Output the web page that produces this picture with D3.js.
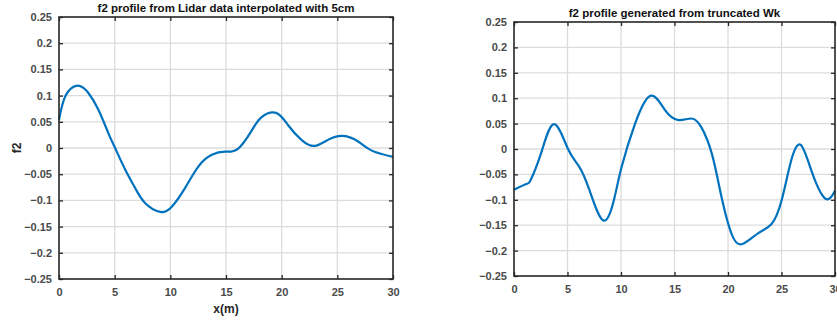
<!DOCTYPE html>
<html>
<head>
<meta charset="utf-8">
<script src="https://cdn.jsdelivr.net/npm/d3@7"></script>
<style>
  body { margin: 0; background: #fff; }
  svg text { font-family: Arial, "Liberation Sans", sans-serif; }
</style>
</head>
<body>
<div id="chart"></div>
<script>
// left profile (lidar, interpolated 5cm)
var lidarX = [0, 0.6, 1.68, 2.64, 3.54, 4.44, 5.04, 5.94, 6.83, 7.73, 9.08, 10.13, 11.33, 12.53, 13.73, 14.93, 16.1, 17.33, 18.2, 19.5, 20.6, 21.8, 22.96, 24.2, 25.5, 26.9, 28.1, 30];
var lidarF2 = [0.054, 0.1, 0.119, 0.105, 0.073, 0.028, 0, -0.041, -0.076, -0.105, -0.122, -0.112, -0.076, -0.035, -0.013, -0.007, -0.001, 0.034, 0.059, 0.067, 0.043, 0.015, 0.004, 0.016, 0.023, 0.012, -0.005, -0.017];

// right profile (generated from truncated Wk)
var wkX = [0, 1.15, 1.6, 2.55, 3.74, 5.05, 6.1, 7.07, 8.38, 9.4, 10.05, 11.3, 12.78, 14.1, 15.36, 16.6, 17.5, 18.5, 19.4, 20.35, 21.35, 22.8, 24.05, 25.0, 25.9, 26.8, 27.8, 29.06, 30];
var wkF2 = [-0.08, -0.069, -0.059, -0.007, 0.049, 0.0, -0.035, -0.082, -0.141, -0.095, -0.036, 0.049, 0.105, 0.077, 0.057, 0.06, 0.043, -0.01, -0.095, -0.168, -0.187, -0.166, -0.148, -0.102, -0.023, 0.008, -0.043, -0.097, -0.082];

var xTicks = [0, 5, 10, 15, 20, 25, 30];
var yTicks = [-0.25, -0.2, -0.15, -0.1, -0.05, 0, 0.05, 0.1, 0.15, 0.2, 0.25];

var svg = d3.select("#chart").append("svg")
    .attr("width", 837)
    .attr("height", 326);

function drawPanel(cfg) {
    var x = d3.scaleLinear().domain([0, 30]).range([cfg.left, cfg.right]);
    var y = d3.scaleLinear().domain([-0.25, 0.25]).range([cfg.bottom, cfg.top]);
    var g = svg.append("g");

    // grid
    g.selectAll(".gx").data(xTicks.slice(1, -1)).enter().append("line")
        .attr("x1", function (d) { return x(d); })
        .attr("x2", function (d) { return x(d); })
        .attr("y1", cfg.top).attr("y2", cfg.bottom)
        .attr("stroke", "#dcdcdc").attr("stroke-width", 1.3);
    g.selectAll(".gy").data(yTicks.slice(1, -1)).enter().append("line")
        .attr("y1", function (d) { return y(d); })
        .attr("y2", function (d) { return y(d); })
        .attr("x1", cfg.left).attr("x2", cfg.right)
        .attr("stroke", "#dcdcdc").attr("stroke-width", 1.3);

    // the curve
    var line = d3.line()
        .x(function (d) { return x(d[0]); })
        .y(function (d) { return y(d[1]); })
        .curve(d3.curveNatural);
    g.append("path")
        .datum(d3.zip(cfg.xs, cfg.ys))
        .attr("d", line)
        .attr("fill", "none")
        .attr("stroke", "#0072BD")
        .attr("stroke-width", 2.2);

    // axes (ticks pointing inward, MATLAB style)
    var bottom = g.append("g")
        .attr("transform", "translate(0," + cfg.bottom + ")")
        .call(d3.axisBottom(x).tickValues(xTicks).tickSizeInner(-4).tickSizeOuter(0).tickPadding(9));
    var top = g.append("g")
        .attr("transform", "translate(0," + cfg.top + ")")
        .call(d3.axisTop(x).tickValues(xTicks).tickSizeInner(-4).tickSizeOuter(0).tickFormat(""));
    var left = g.append("g")
        .attr("transform", "translate(" + cfg.left + ",0)")
        .call(d3.axisLeft(y).tickValues(yTicks).tickSizeInner(-4).tickSizeOuter(0).tickPadding(7)
            .tickFormat(function (d) { return d3.format("")(+d.toFixed(2)); }));
    var right = g.append("g")
        .attr("transform", "translate(" + cfg.right + ",0)")
        .call(d3.axisRight(y).tickValues(yTicks).tickSizeInner(-4).tickSizeOuter(0).tickFormat(""));

    [bottom, top, left, right].forEach(function (a) {
        a.select(".domain").remove();
        a.selectAll("line").attr("stroke", "#262626").attr("stroke-width", 1.3);
        a.selectAll("text")
            .attr("fill", "#4a4a4a")
            .style("font-size", "11px")
            .style("font-weight", "bold");
    });

    // box
    g.append("rect")
        .attr("x", cfg.left).attr("y", cfg.top)
        .attr("width", cfg.right - cfg.left)
        .attr("height", cfg.bottom - cfg.top)
        .attr("fill", "none")
        .attr("stroke", "#262626")
        .attr("stroke-width", 1.6);

    // title
    g.append("text")
        .attr("x", (cfg.left + cfg.right) / 2)
        .attr("y", cfg.top - 5)
        .attr("text-anchor", "middle")
        .attr("fill", "#111")
        .style("font-size", "11.5px")
        .style("font-weight", "bold")
        .text(cfg.title);

    if (cfg.xlabel) {
        g.append("text")
            .attr("x", (cfg.left + cfg.right) / 2)
            .attr("y", cfg.bottom + 34)
            .attr("text-anchor", "middle")
            .attr("fill", "#262626")
            .style("font-size", "12px")
            .style("font-weight", "bold")
            .text(cfg.xlabel);
    }
    if (cfg.ylabel) {
        g.append("text")
            .attr("transform", "translate(21," + ((cfg.top + cfg.bottom) / 2) + ") rotate(-90)")
            .attr("text-anchor", "middle")
            .attr("fill", "#262626")
            .style("font-size", "12px")
            .style("font-weight", "bold")
            .text(cfg.ylabel);
    }
}

drawPanel({
    left: 59, right: 393, top: 17, bottom: 279,
    xs: lidarX, ys: lidarF2,
    title: "f2 profile from Lidar data interpolated with 5cm",
    xlabel: "x(m)", ylabel: "f2"
});

drawPanel({
    left: 514, right: 835, top: 22, bottom: 276,
    xs: wkX, ys: wkF2,
    title: "f2 profile generated from truncated Wk"
});
</script>
</body>
</html>
